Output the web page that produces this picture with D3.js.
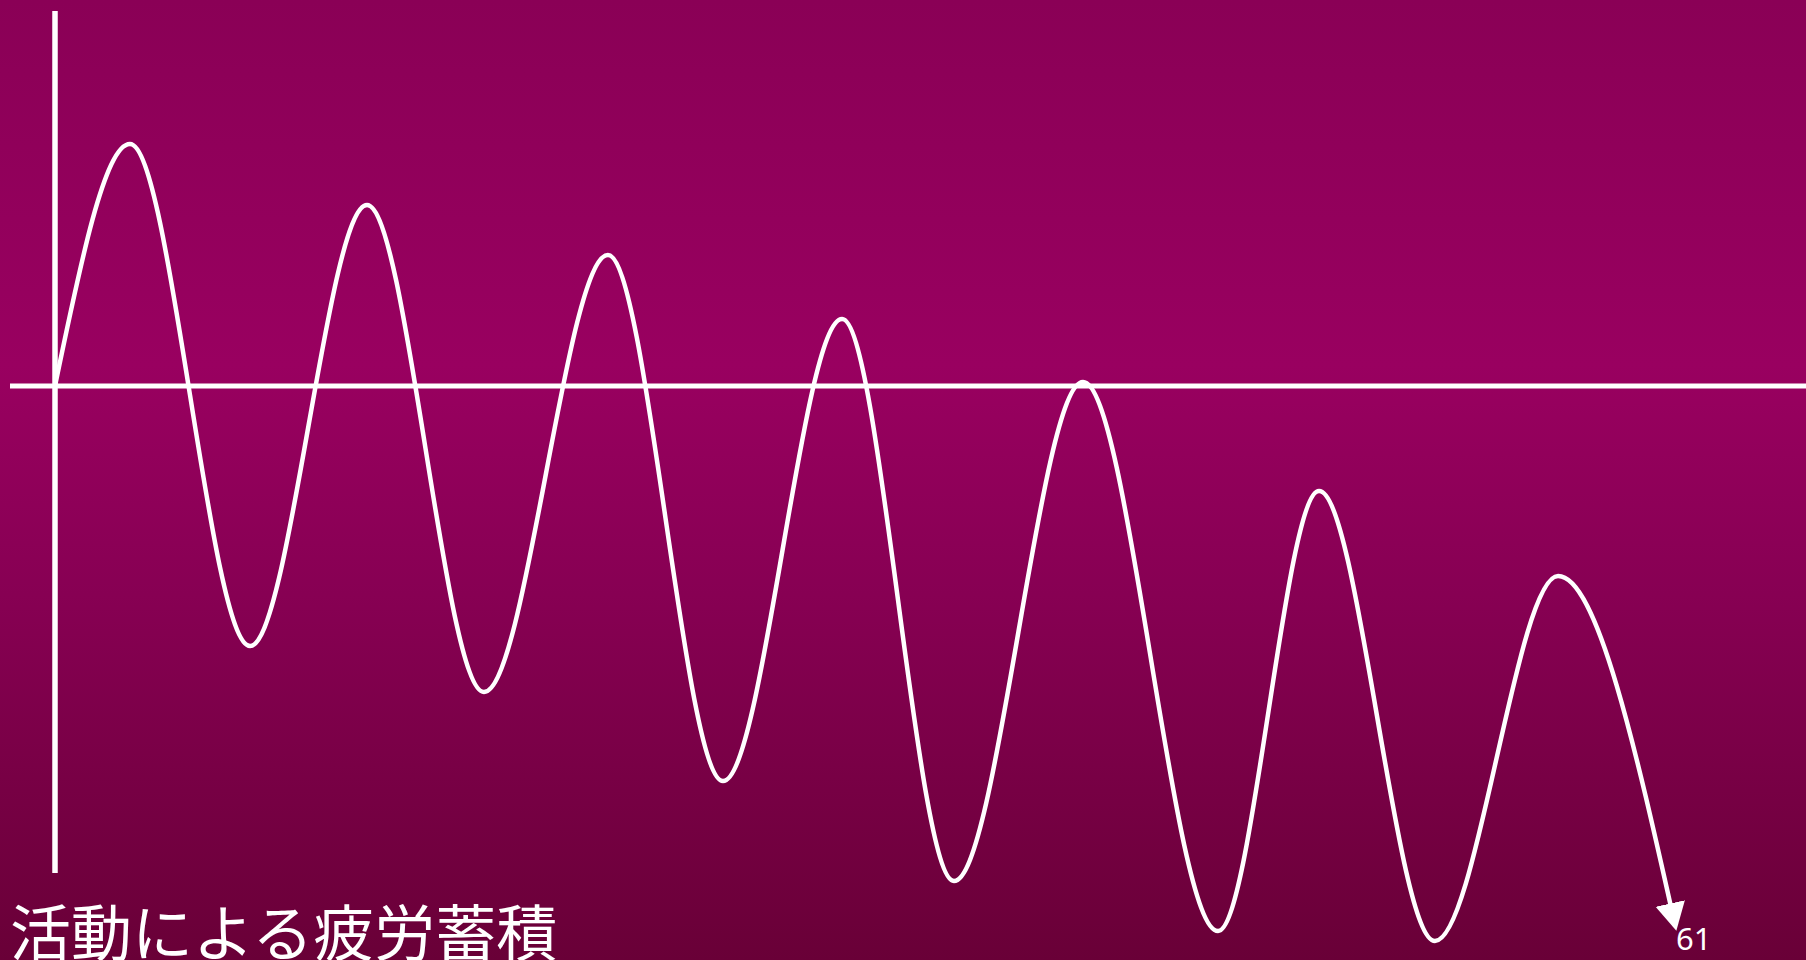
<!DOCTYPE html>
<html>
<head>
<meta charset="utf-8">
<script src="https://cdn.jsdelivr.net/npm/d3@7"></script>
<style>
  html, body { margin: 0; padding: 0; overflow: hidden; }
  svg { display: block; }
</style>
</head>
<body>
<div id="chart"></div>
<script>
// time along the activity and the fatigue level (0 = baseline)
var time = [0, 4.28, 11.14, 17.82, 24.5, 31.58, 38.15, 44.95, 51.34, 58.71, 66.42, 72.19, 78.81, 85.84, 92.52];
var level = [0, 48.4, -52, 36.2, -61.2, 26.2, -79, 13.4, -99, 0.8, -109, -21, -111, -38, -107.8];

var title = "活動による疲労蓄積";
var pageNo = "61";

var width = 1806, height = 960;

var svg = d3.select("#chart")
  .append("svg")
  .attr("width", width)
  .attr("height", height);

// background: magenta, darkening towards the bottom
var defs = svg.append("defs");
var grad = defs.append("linearGradient")
  .attr("id", "bg")
  .attr("x1", 0).attr("y1", 0)
  .attr("x2", 0).attr("y2", 1);
grad.append("stop").attr("offset", "0%").attr("stop-color", "#8a0056");
grad.append("stop").attr("offset", "38%").attr("stop-color", "#990060");
grad.append("stop").attr("offset", "62%").attr("stop-color", "#870053");
grad.append("stop").attr("offset", "100%").attr("stop-color", "#690037");

defs.append("marker")
  .attr("id", "arrow")
  .attr("markerUnits", "userSpaceOnUse")
  .attr("viewBox", "0 -16 28 32")
  .attr("refX", 22)
  .attr("refY", 0)
  .attr("markerWidth", 28)
  .attr("markerHeight", 32)
  .attr("orient", "auto")
  .append("path")
  .attr("d", "M0,-15L28,0L0,15Z")
  .attr("fill", "#fff");

svg.append("rect")
  .attr("width", width)
  .attr("height", height)
  .attr("fill", "url(#bg)");

var x = d3.scaleLinear().domain([0, 100]).range([55, 1806]);
var y = d3.scaleLinear().domain([-100, 100]).range([886, -114]);

// axes
svg.append("line")
  .attr("x1", 10).attr("x2", width)
  .attr("y1", y(0)).attr("y2", y(0))
  .attr("stroke", "#fff")
  .attr("stroke-width", 5);

svg.append("line")
  .attr("x1", x(0)).attr("x2", x(0))
  .attr("y1", 11).attr("y2", 873)
  .attr("stroke", "#fff")
  .attr("stroke-width", 5.5);

// the fatigue curve
var line = d3.line()
  .x(function(d, i) { return x(time[i]); })
  .y(function(d) { return y(d); })
  .curve(d3.curveMonotoneX);

svg.append("path")
  .datum(level)
  .attr("d", line)
  .attr("fill", "none")
  .attr("stroke", "#fff")
  .attr("stroke-width", 4.5)
  .attr("marker-end", "url(#arrow)");

svg.append("text")
  .attr("x", 10)
  .attr("y", 956)
  .attr("fill", "#fff")
  .style("font-family", "'Noto Sans CJK JP', sans-serif")
  .style("font-size", "61px")
  .text(title);

svg.append("text")
  .attr("x", 1676)
  .attr("y", 950)
  .attr("fill", "#fff")
  .style("font-family", "'Noto Sans', sans-serif")
  .style("font-size", "31px")
  .text(pageNo);
</script>
</body>
</html>
